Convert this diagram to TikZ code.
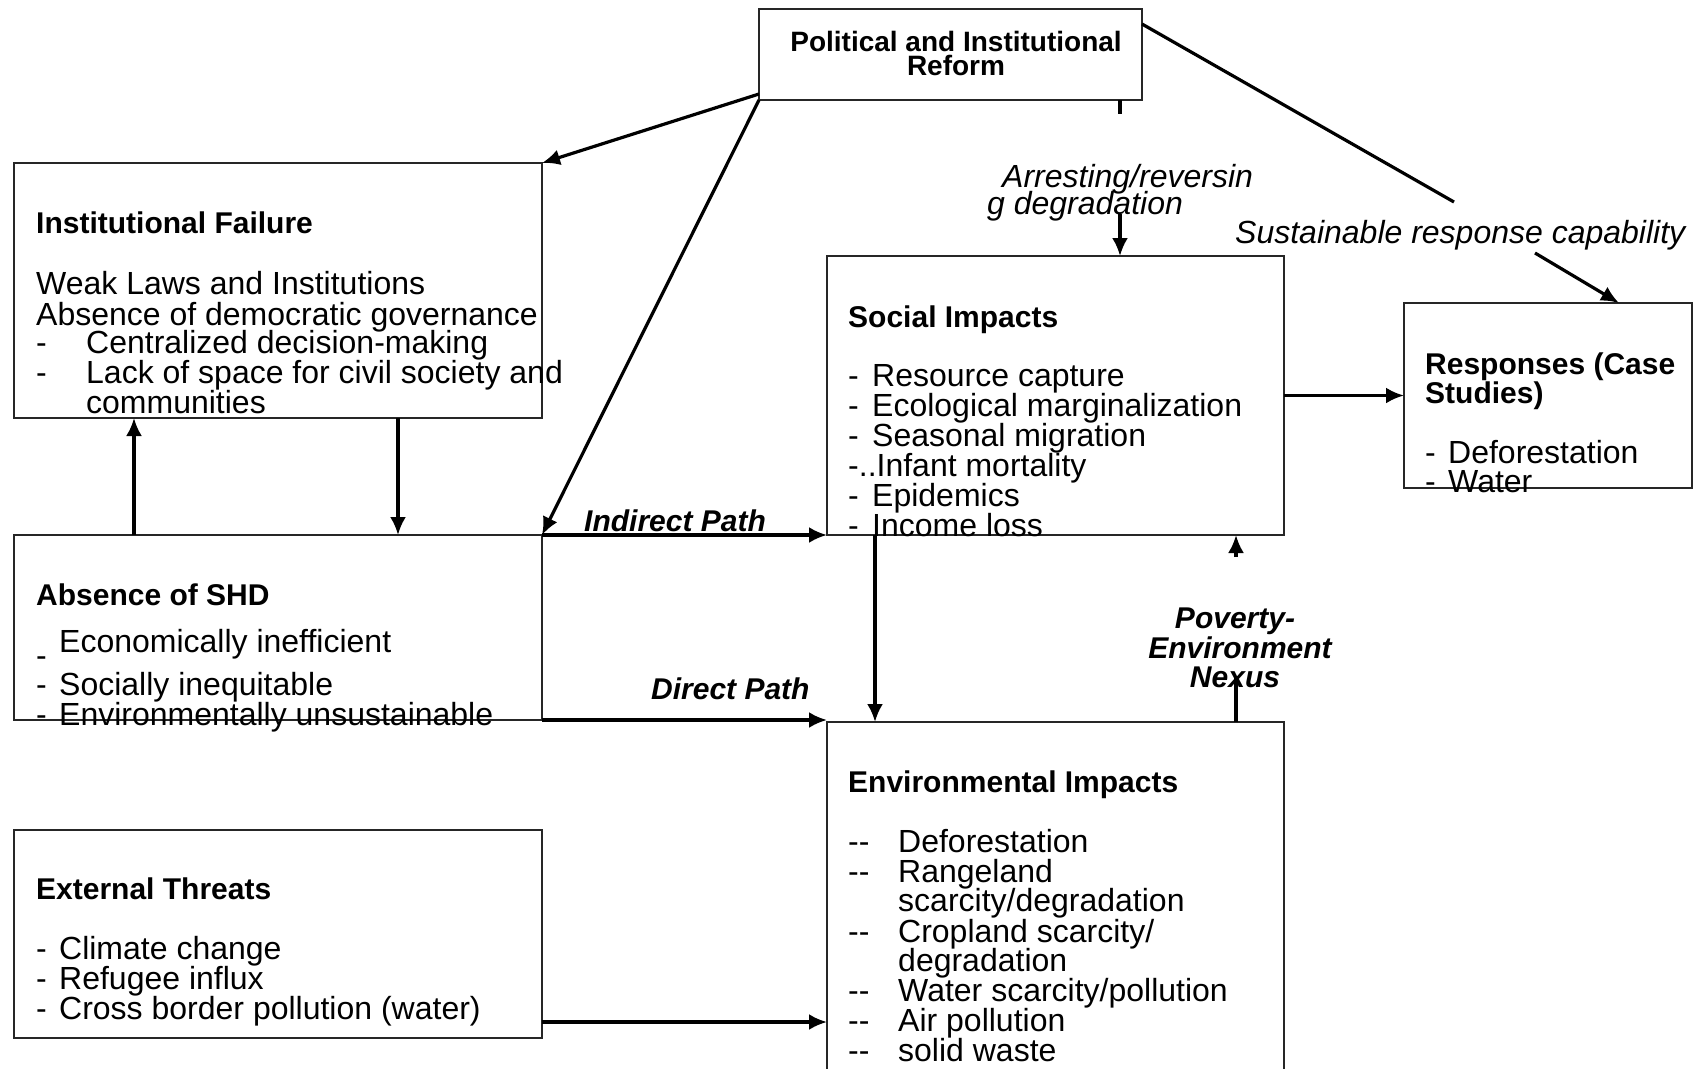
\documentclass[tikz,border=0pt]{standalone}
\usepackage{fontspec}
\setmainfont{Liberation Sans}
\usetikzlibrary{arrows.meta}
\newcommand\fBody{\fontsize{32}{30}\selectfont}
\newcommand\fHead{\fontsize{30}{30}\selectfont\bfseries}
\newcommand\fPol{\fontsize{28}{24}\selectfont\bfseries}
\newcommand\fLab{\fontsize{32}{30}\selectfont\itshape}
\newcommand\fBLab{\fontsize{30}{30}\selectfont\bfseries\itshape}
\begin{document}
\begin{tikzpicture}[x=1pt,y=-1pt,
  box/.style={draw=black!85,line width=2pt,inner sep=0pt,outer sep=0pt,anchor=north west},
  conn/.style={line width=3.2pt,-{Latex[length=18pt,width=16pt]}},
  seg/.style={line width=3.2pt},
  tx/.style={anchor=base west,inner sep=0pt,font=\fBody},
  hd/.style={anchor=base west,inner sep=0pt,font=\fHead},
  pl/.style={anchor=base,inner sep=0pt,font=\fPol},
  lab/.style={anchor=base west,inner sep=0pt,font=\fLab},
  blab/.style={anchor=base west,inner sep=0pt,font=\fBLab}]
\fill[white] (0,0) rectangle (1707,1068);
\useasboundingbox (0,0) rectangle (1707,1068);

% boxes
\node[box,minimum width=383,minimum height=91] (pol) at (759,9) {};
\node[box,minimum width=528,minimum height=255] (inst) at (14,163) {};
\node[box,minimum width=528,minimum height=185] (absn) at (14,535) {};
\node[box,minimum width=528,minimum height=208] (ext) at (14,830) {};
\node[box,minimum width=457,minimum height=279] (soc) at (827,256) {};
\node[box,minimum width=288,minimum height=185] (resp) at (1404,303) {};
\node[box,minimum width=457,minimum height=380] (env) at (827,722) {};

% political
\node[pl] (p1) at (956,51) {Political and Institutional};
\node[pl] (p2) at (956,75) {Reform};

% institutional failure
\node[hd] (i0) at (36,233) {Institutional Failure};
\node[tx] (i1) at (36,294) {Weak Laws and Institutions};
\node[tx] (i2) at (36,325) {Absence of democratic governance};
\node[tx] (i3) at (36,353) {\makebox[50pt][l]{-}Centralized decision-making};
\node[tx] (i4) at (36,383) {\makebox[50pt][l]{-}Lack of space for civil society and};
\node[tx] (i5) at (86,413) {communities};

% absence of SHD
\node[hd] (a0) at (36,605) {Absence of SHD};
\node[tx] (a1) at (59,652) {Economically inefficient};
\node[tx] (a1d) at (36,666) {-};
\node[tx] (a2) at (36,695) {\makebox[23pt][l]{-}Socially inequitable};
\node[tx] (a3) at (36,725) {\makebox[23pt][l]{-}Environmentally unsustainable};

% external threats
\node[hd] (e0) at (36,899) {External Threats};
\node[tx] (e1) at (36,959) {\makebox[23pt][l]{-}Climate change};
\node[tx] (e2) at (36,989) {\makebox[23pt][l]{-}Refugee influx};
\node[tx] (e3) at (36,1019) {\makebox[23pt][l]{-}Cross border pollution (water)};

% social impacts
\node[hd] (s0) at (848,327) {Social Impacts};
\node[tx] (s1) at (848,386) {\makebox[24pt][l]{-}Resource capture};
\node[tx] (s2) at (848,416) {\makebox[24pt][l]{-}Ecological marginalization};
\node[tx] (s3) at (848,446) {\makebox[24pt][l]{-}Seasonal migration};
\node[tx] (s4) at (848,476) {-..Infant mortality};
\node[tx] (s5) at (848,506) {\makebox[24pt][l]{-}Epidemics};
\node[tx] (s6) at (848,536) {\makebox[24pt][l]{-}Income loss};

% responses
\node[hd] (r0) at (1425,374) {Responses (Case};
\node[hd] (r1) at (1425,403) {Studies)};
\node[tx] (r2) at (1425,463) {\makebox[23pt][l]{-}Deforestation};
\node[tx] (r3) at (1425,492) {\makebox[23pt][l]{-}Water};

% environmental impacts
\node[hd] (v0) at (848,792) {Environmental Impacts};
\node[tx] (v1) at (848,852) {\makebox[50pt][l]{-{}-}Deforestation};
\node[tx] (v2) at (848,882) {\makebox[50pt][l]{-{}-}Rangeland};
\node[tx] (v3) at (898,911) {scarcity/degradation};
\node[tx] (v4) at (848,942) {\makebox[50pt][l]{-{}-}Cropland scarcity/};
\node[tx] (v5) at (898,971) {degradation};
\node[tx] (v6) at (848,1001) {\makebox[50pt][l]{-{}-}Water scarcity/pollution};
\node[tx] (v7) at (848,1031) {\makebox[50pt][l]{-{}-}Air pollution};
\node[tx] (v8) at (848,1061) {\makebox[50pt][l]{-{}-}solid waste};

% connector labels
\node[lab] (l1) at (1002,187) {Arresting/reversin};
\node[lab] (l2) at (987,214) {g degradation};
\node[lab] (l3) at (1235,243) {Sustainable response capability};
\node[blab] (l4) at (584,531) {Indirect Path};
\node[blab] (l5) at (651,699) {Direct Path};
\node[blab,anchor=base] (l6) at (1235,628) {Poverty-};
\node[blab,anchor=base] (l7) at (1240,658) {Environment};
\node[blab,anchor=base] (l8) at (1235,687) {Nexus};

% free ends
\coordinate (t1) at (1120,114);
\coordinate (t2) at (1120,214);
\coordinate (g1) at (1454,202);
\coordinate (g2) at (1535,253);
\coordinate (n1) at (1236,676);
\coordinate (n2) at (1236,557);

% connectors
\draw[conn] ([yshift=6pt]pol.south west) -- (inst.north east);
\draw[conn] (pol.south west) -- (absn.north east);
\draw[seg] ([yshift=-15pt]pol.north east) -- (g1);
\draw[conn] (g2) -- ([xshift=71pt]resp.north);
\draw[seg] ([xshift=169.5pt]pol.south) -- (t1);
\draw[conn] (t2) -- ([xshift=64.5pt]soc.north);
\draw[conn] (soc.east) -- (resp.west);
\draw[conn] ([xshift=120pt]inst.south) -- ([xshift=120pt]absn.north);
\draw[conn] ([xshift=-144pt]absn.north) -- ([xshift=-144pt]inst.south);
\draw[conn] (absn.north east) -- (soc.south west);
\draw[conn] (absn.south east) -- (absn.south east -| env.west);
\draw[conn] ([xshift=-180.5pt]soc.south) -- ([xshift=-180.5pt]env.north);
\draw[seg] ([xshift=180.5pt]env.north) -- (n1);
\draw[conn] (n2) -- ([xshift=180.5pt]soc.south);
\draw[conn] ([yshift=-88pt]ext.east) -- ([yshift=-88pt]ext.east -| env.west);
\end{tikzpicture}
\end{document}
